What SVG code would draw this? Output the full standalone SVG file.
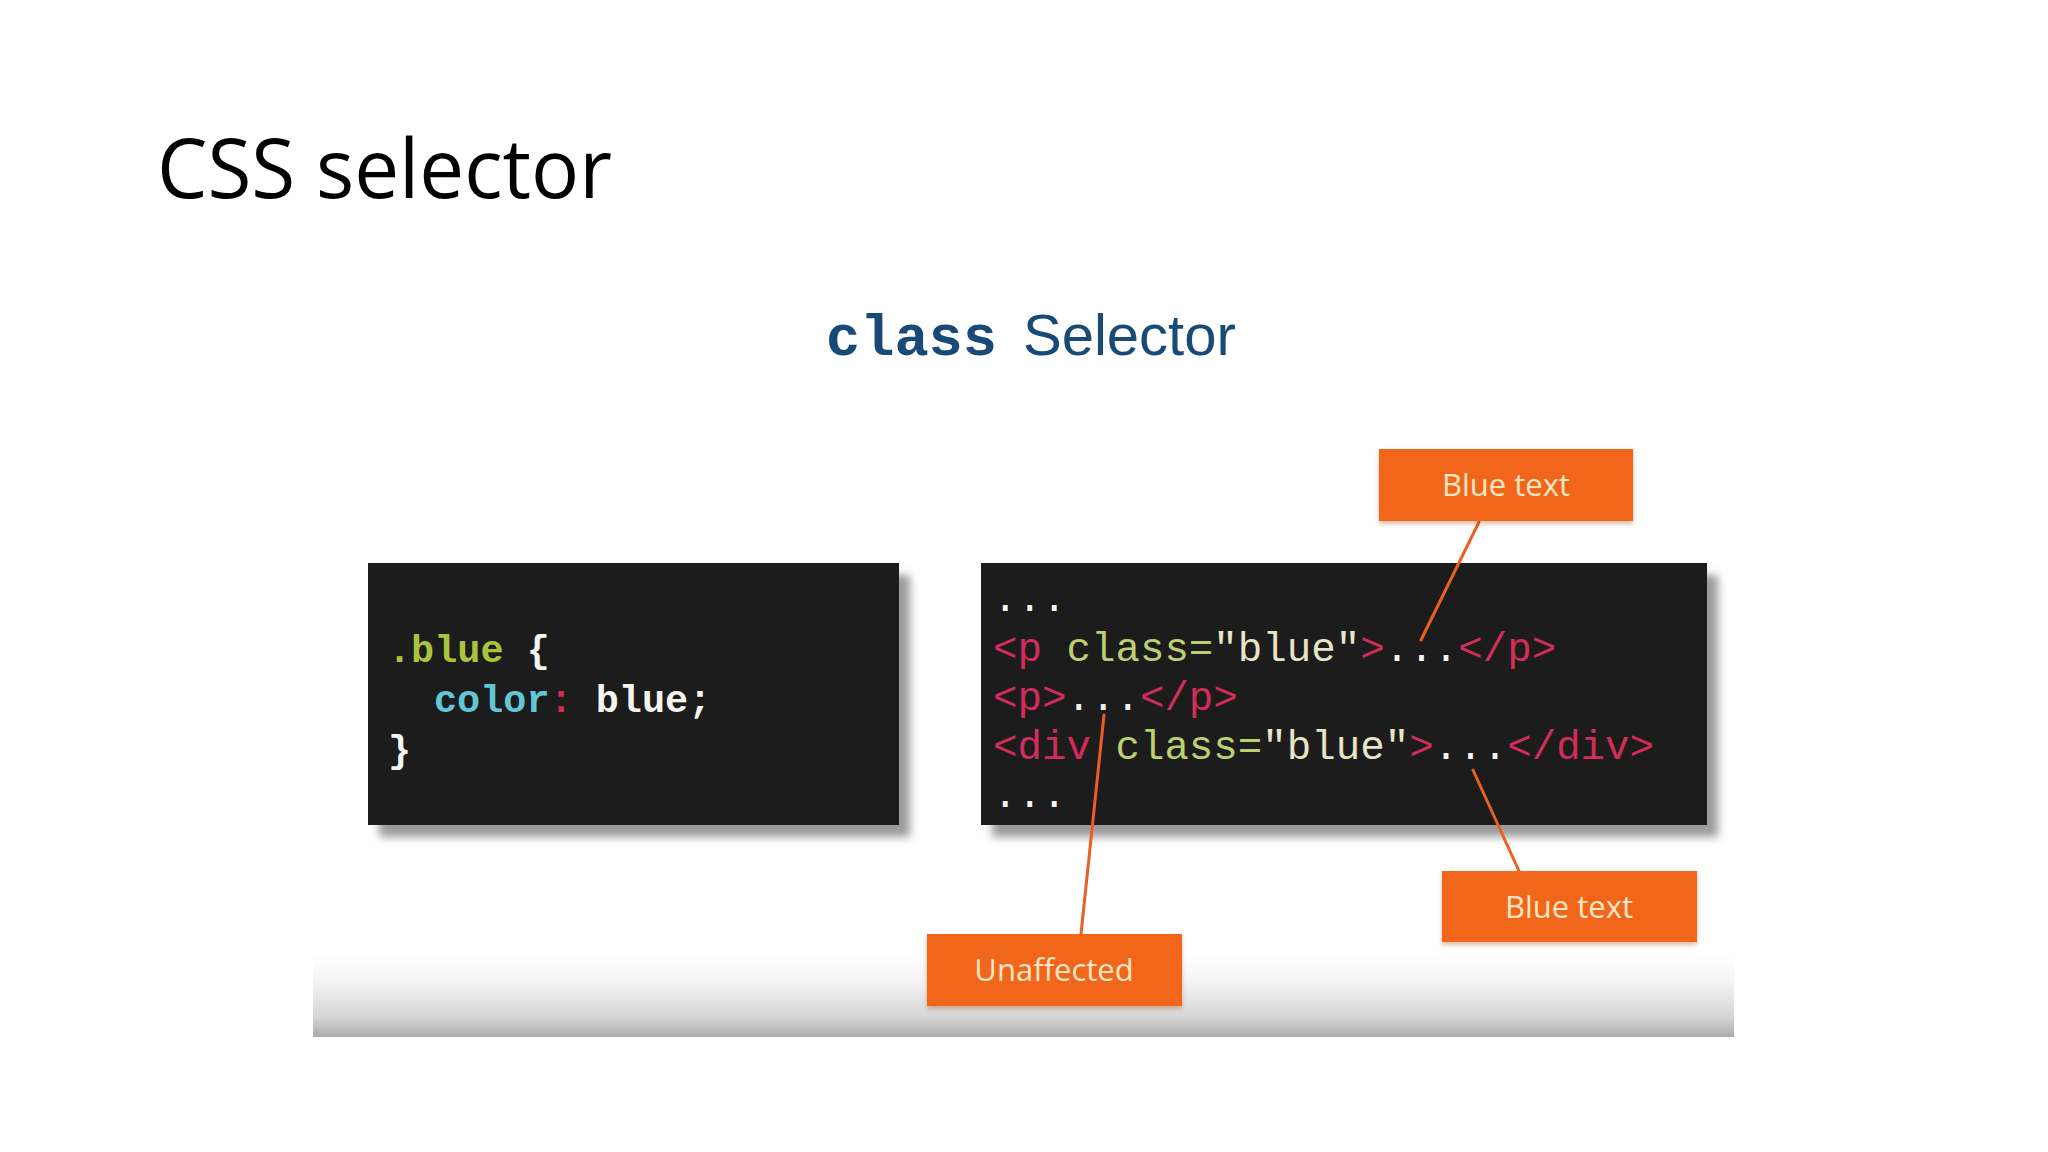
<svg xmlns="http://www.w3.org/2000/svg" width="2048" height="1152" viewBox="0 0 2048 1152">
  <defs>
    <linearGradient id="band" x1="0" y1="0" x2="0" y2="1">
      <stop offset="0" stop-color="#ffffff"/>
      <stop offset="0.3" stop-color="#f5f5f5"/>
      <stop offset="0.75" stop-color="#d6d6d6"/>
      <stop offset="1" stop-color="#acacac"/>
    </linearGradient>
    <filter id="boxShadow" x="-5%" y="-5%" width="115%" height="125%">
      <feDropShadow dx="11" dy="12" stdDeviation="4" flood-color="#7a7a7a" flood-opacity="0.75"/>
    </filter>
    <filter id="tagShadow" x="-5%" y="-10%" width="110%" height="135%">
      <feDropShadow dx="0" dy="3" stdDeviation="2" flood-color="#a04010" flood-opacity="0.35"/>
    </filter>
  </defs>
  <style>
    .title { font-family: "Open Sans", "Noto Sans", sans-serif; font-size: 82px; fill: #000000; }
    .subMono { font-family: "Liberation Mono", monospace; font-weight: bold; font-size: 57px; fill: #184a78; }
    .subSans { font-family: "Liberation Sans", Arial, sans-serif; font-size: 58px; fill: #184a78; }
    .code { fill: #1f1f1f; filter: url(#boxShadow); }
    .cssT { font-family: "Liberation Mono", monospace; font-weight: bold; font-size: 38.5px; }
    .htmlT { font-family: "Liberation Mono", monospace; font-size: 40.8px; }
    .w { fill: #f4f4f0; }
    .g { fill: #a9c43c; }
    .cy { fill: #62c6d6; }
    .pk { fill: #d22c5c; }
    .gr { fill: #bccf72; }
    .cr { fill: #e8e4c6; }
    .tag { fill: #f2661f; filter: url(#tagShadow); }
    .tagT { font-family: "Open Sans", "Noto Sans", sans-serif; font-size: 31px; fill: #fde6c4; text-anchor: middle; }
    .conn { stroke: #ea5f22; stroke-width: 3; fill: none; stroke-linecap: round; }
  </style>

  <rect x="0" y="0" width="2048" height="1152" fill="#ffffff"/>

  <g id="title">
    <text class="title" x="157" y="198" textLength="455" lengthAdjust="spacingAndGlyphs">CSS selector</text>
  </g>

  <rect x="313" y="955" width="1421" height="82" fill="url(#band)"/>

  <g id="subtitle">
    <text x="826" y="355"><tspan class="subMono">class</tspan><tspan class="subSans" x="1023">Selector</tspan></text>
  </g>

  <g id="css-box">
    <rect class="code" x="368" y="563" width="531" height="262"/>
    <text class="cssT" x="388" y="662" xml:space="preserve"><tspan class="g">.blue</tspan><tspan class="w"> {</tspan></text>
    <text class="cssT" x="434" y="712" xml:space="preserve"><tspan class="cy">color</tspan><tspan class="pk">:</tspan><tspan class="w"> blue;</tspan></text>
    <text class="cssT w" x="388" y="762">}</text>
  </g>

  <g id="html-box">
    <rect class="code" x="981" y="563" width="726" height="262"/>
    <text class="htmlT w" x="993" y="611">...</text>
    <text class="htmlT" x="993" y="661" xml:space="preserve"><tspan class="pk">&lt;p</tspan> <tspan class="gr">class=</tspan><tspan class="cr">"blue"</tspan><tspan class="pk">&gt;</tspan><tspan class="w">...</tspan><tspan class="pk">&lt;/p&gt;</tspan></text>
    <text class="htmlT" x="993" y="710" xml:space="preserve"><tspan class="pk">&lt;p&gt;</tspan><tspan class="w">...</tspan><tspan class="pk">&lt;/p&gt;</tspan></text>
    <text class="htmlT" x="993" y="759" xml:space="preserve"><tspan class="pk">&lt;div</tspan> <tspan class="gr">class=</tspan><tspan class="cr">"blue"</tspan><tspan class="pk">&gt;</tspan><tspan class="w">...</tspan><tspan class="pk">&lt;/div&gt;</tspan></text>
    <text class="htmlT w" x="993" y="807">...</text>
  </g>

  <g id="connectors">
    <line class="conn" x1="1479" y1="522" x2="1421" y2="640"/>
    <line class="conn" x1="1104" y1="715" x2="1081" y2="934"/>
    <line class="conn" x1="1473" y1="770" x2="1519" y2="871"/>
  </g>

  <g id="label-blue-top">
    <rect class="tag" x="1379" y="449" width="254" height="72"/>
    <text class="tagT" x="1506" y="496">Blue text</text>
  </g>

  <g id="label-blue-bottom">
    <rect class="tag" x="1442" y="871" width="255" height="71"/>
    <text class="tagT" x="1569" y="918">Blue text</text>
  </g>

  <g id="label-unaffected">
    <rect class="tag" x="927" y="934" width="255" height="72"/>
    <text class="tagT" x="1054" y="981">Unaffected</text>
  </g>
</svg>
